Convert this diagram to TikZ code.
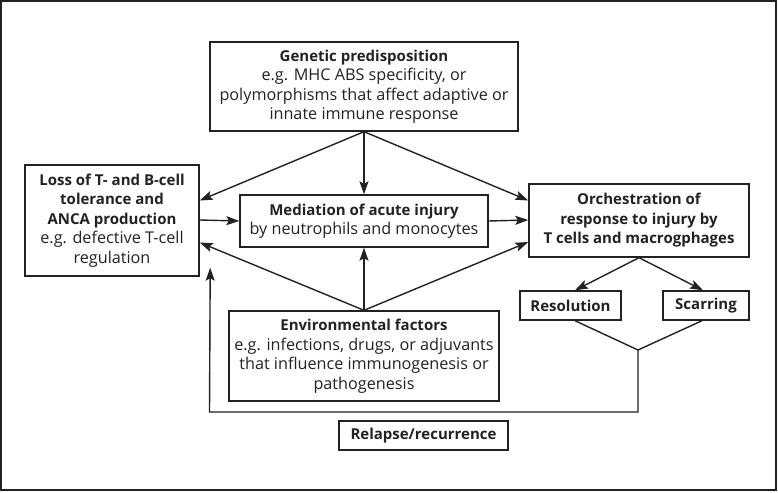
\documentclass[tikz,border=0pt]{standalone}
\usepackage{fontspec}
\setmainfont{Open Sans}
\usepackage{xcolor}
\usetikzlibrary{arrows.meta}
\definecolor{ink}{HTML}{222222}
\newcommand{\headtxt}[1]{{\fontsize{15}{19.5}\selectfont\bfseries #1}}

\begin{document}
\begin{tikzpicture}[x=1pt,y=-1pt,
    font=\fontsize{16.2}{19.5}\selectfont,
    box/.style={draw=ink,line width=1.4pt,align=center,inner sep=0pt,
      text=ink},
    link/.style={draw=ink,line width=1.4pt,
      -{Stealth[length=13pt,width=9pt,inset=2.5pt]}}]
    \useasboundingbox (0,0) rectangle (778,492);
    \draw[ink,line width=1.6pt] (1,1) rectangle (776,490);
    % boxes
    \node[box,minimum width=308pt,minimum height=89pt] (gen) at (364,86.5)
      {\headtxt{Genetic predisposition}\\e.g. MHC ABS specificity, or\\
       polymorphisms that affect adaptive or\\innate immune response};
    \node[box,minimum width=174pt,minimum height=111pt] (loss) at (112,220.5)
      {\headtxt{Loss of T- and B-cell}\\\headtxt{tolerance and}\\
       \headtxt{ANCA production}\\e.g. defective T-cell\\regulation};
    \node[box,minimum width=248pt,minimum height=52pt] (med) at (364,221)
      {\headtxt{Mediation of acute injury}\\by neutrophils and monocytes};
    \node[box,minimum width=220pt,minimum height=73pt] (orch) at (639,220.5)
      {\headtxt{Orchestration of}\\\headtxt{response to injury by}\\
       \headtxt{T cells and macrogphages}};
    \node[box,minimum width=101pt,minimum height=29pt] (res) at (570.5,305.5)
      {\headtxt{Resolution}};
    \node[box,minimum width=86pt,minimum height=29pt] (scar) at (706,305.5)
      {\headtxt{Scarring}};
    \node[box,minimum width=270pt,minimum height=90pt] (env) at (364,356)
      {\headtxt{Environmental factors}\\e.g. infections, drugs, or adjuvants\\
       that influence immunogenesis or\\pathogenesis};
    \node[box,minimum width=169pt,minimum height=29pt] (rel) at (423.5,435.5)
      {\headtxt{Relapse/recurrence}};
    % arrows from the top
    \draw[link] (gen.south) -- ([yshift=20pt]loss.east);
    \draw[link] (gen.south) -- (med.north);
    \draw[link] (gen.south) -- ([yshift=20pt]orch.west);
    % middle row
    \draw[link] ([yshift=0.5pt]loss.east) -- (med.west);
    \draw[link] (med.east) -- ([yshift=0.5pt]orch.west);
    % arrows from the bottom
    \draw[link] (env.north) -- ([yshift=-22pt]loss.east);
    \draw[link] (env.north) -- (med.south);
    \draw[link] (env.north) -- ([yshift=-21.5pt]orch.west);
    % outcomes
    \draw[link] (orch.south) -- ([xshift=4.5pt]res.north);
    \draw[link] (orch.south) -- ([xshift=-3pt]scar.north);
    \coordinate (join) at (638,350);
    \coordinate (turn) at (209.5,412);
    \draw[ink,line width=1.4pt] ([xshift=4.5pt]res.south) -- (join)
      -- ([xshift=-4pt]scar.south);
    \draw[link] (join) |- (turn) -- ([xshift=10.5pt,yshift=9pt]loss.south east);
  \end{tikzpicture}
\end{document}
